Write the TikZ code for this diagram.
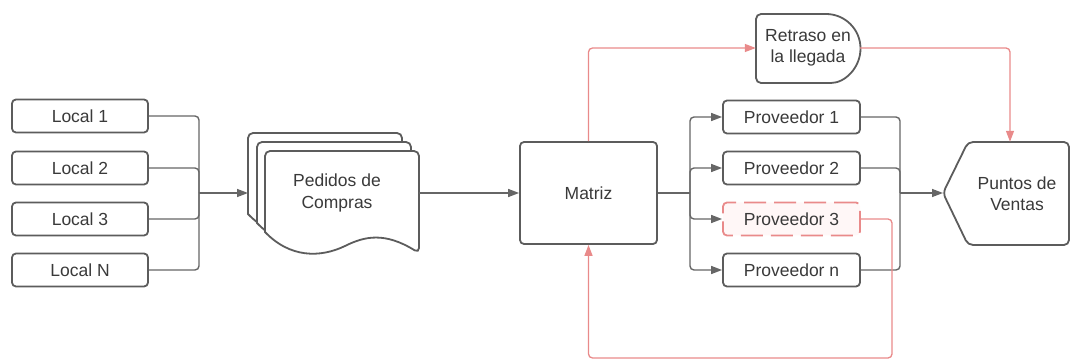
\documentclass[tikz,border=0pt]{standalone}
\usepackage{fontspec}
\setmainfont{Liberation Sans}
\usetikzlibrary{arrows.meta}
\definecolor{edge}{HTML}{5C5C5C}
\definecolor{wire}{HTML}{666666}
\definecolor{alert}{HTML}{E98A8A}
\definecolor{ink}{HTML}{3A3A3A}
\definecolor{blush}{HTML}{FFF7F7}
\tikzset{
  box/.style={draw=edge, line width=1.8pt, rounded corners=4pt, fill=white,
    minimum height=33pt, text=ink, font=\fontsize{17.5}{21}\selectfont, inner sep=0pt},
  localbox/.style={box, minimum width=136pt},
  provbox/.style={box, minimum width=137pt},
  failbox/.style={provbox, draw=alert, fill=blush, dash pattern=on 22pt off 8pt},
  label/.style={text=ink, font=\fontsize{17.5}{21.5}\selectfont, align=center, inner sep=0pt},
  outline/.style={draw=edge, line width=1.8pt, fill=white},
  link/.style={draw=wire, line width=1.4pt, rounded corners=4pt},
  flow/.style={link, -{Triangle[length=11pt,width=8pt]}},
  redlink/.style={draw=alert, line width=1.3pt, rounded corners=4pt},
  redflow/.style={redlink, -{Triangle[length=11pt,width=8pt]}},
  pics/docpage/.style={code={
    \path[outline] [rounded corners=5pt] (0,81) -- (0,0) -- (154,0) -- (154,102)
      [sharp corners] .. controls (120,81) and (100,85) .. (80,95)
      .. controls (55,107) and (25,107) .. (0,81) -- cycle;
  }}
}
\begin{document}
\begin{tikzpicture}[x=1pt, y=-1pt]
\useasboundingbox (0,0) rectangle (1073,363);

% store locations
\node[localbox] (l1) at (80,116) {Local 1};
\node[localbox] (l2) at (80,168) {Local 2};
\node[localbox] (l3) at (80,219) {Local 3};
\node[localbox] (l4) at (80,270) {Local N};

% stack of purchase orders
\pic at (248,133) {docpage};
\pic at (257,142) {docpage};
\pic at (265,151) {docpage};
\node[label] (ped) at (337,193) {Pedidos de\\Compras};
\coordinate (pedin) at (248,193);
\coordinate (pedout) at (419,193);

% head office
\node[box, minimum width=137pt, minimum height=102pt] (mat) at (588.5,193) {Matriz};

% delay shape
\path[outline] [rounded corners=5pt] (826,14) -- (756,14) -- (756,83) -- (826,83)
  [sharp corners] arc[start angle=90, end angle=-90, radius=34.5] -- cycle;
\node[label, minimum width=104pt, minimum height=69pt] (ret) at (808,48) {Retraso en\\la llegada};

% suppliers
\node[provbox] (p1) at (791.5,117) {Proveedor 1};
\node[provbox] (p2) at (791.5,168) {Proveedor 2};
\node[failbox] (p3) at (791.5,219) {Proveedor 3};
\node[provbox] (p4) at (791.5,270) {Proveedor n};

% points of sale
\path[outline] [rounded corners=5pt] (943,193) -- (968,142) -- (1069,142) -- (1069,245) -- (968,245) -- cycle;
\node[label, minimum width=101pt, minimum height=103pt] (pv) at (1017,193.5) {Puntos de\\Ventas};
\coordinate (pvtip) at (943,193);

% junctions
\coordinate (j1) at (199,193);
\coordinate (j2) at (690,193);
\coordinate (j3) at (900,193);
\coordinate (loop) at (892,358);

% locals to orders
\foreach \n in {l1,l2,l3,l4} \draw[link] (\n.east) -| (j1);
\draw[flow] (j1) -- (pedin);
\draw[flow] (pedout) -- (mat.west);

% head office to suppliers
\draw[link] (mat.east) -- (j2);
\foreach \n in {p1,p2,p3,p4} \draw[flow] (j2) |- (\n.west);

% suppliers to points of sale
\foreach \n in {p1,p2,p4} \draw[link] (\n.east) -| (j3);
\draw[flow] (j3) -- (pvtip);

% delay path
\draw[redflow] (mat.north) |- (ret.west);
\draw[redflow] (ret.east) -| ([xshift=-7pt]pv.north);
\draw[redflow] (p3.east) -| (loop) -| (mat.south);
\end{tikzpicture}
\end{document}
